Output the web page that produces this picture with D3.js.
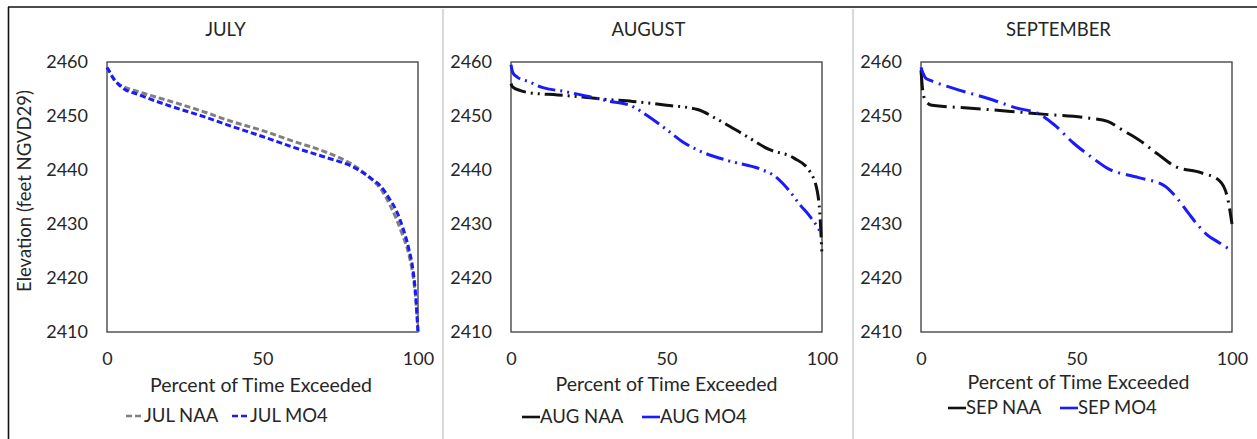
<!DOCTYPE html>
<html>
<head>
<meta charset="utf-8">
<script src="https://cdn.jsdelivr.net/npm/d3@7"></script>
<style>
  html, body { margin: 0; padding: 0; background: #fff; }
  svg { display: block; }
  text { font-family: Lato, "Open Sans", sans-serif; fill: #262626; }
</style>
</head>
<body>
<svg id="chart" width="1257" height="439"></svg>
<script>
// ---- Data (percent of time exceeded, elevation ft NGVD29) ----
const panelTitles = ["JULY", "AUGUST", "SEPTEMBER"];
const yTicks = [2410, 2420, 2430, 2440, 2450, 2460];
const xTicks = [0, 50, 100];
const xTitle = "Percent of Time Exceeded";
const yTitle = "Elevation (feet NGVD29)";

const julNAA = [[0,2459],[1,2458],[2,2457],[3.5,2456],[5,2455.5],[10,2454.5],[20,2452.8],[30,2451],[40,2449],[50,2447.3],[60,2445.3],[70,2443.4],[80,2440.6],[85,2438.3],[88,2436.5],[91,2433.5],[93,2431],[95,2428],[97,2424.5],[98.5,2420],[99.3,2416],[100,2410]];
const julMO4 = [[0,2459],[1,2458],[2,2457],[3.5,2456],[5,2455.2],[10,2454],[20,2451.9],[30,2450.1],[40,2448.1],[50,2446.2],[60,2444.2],[70,2442.4],[80,2440.3],[85,2438.4],[88,2437],[91,2434.5],[93,2432.5],[95,2429.5],[97,2425.5],[98.5,2421],[99.3,2416.5],[100,2410]];

const augNAA = [[0,2456],[0.5,2455.4],[3,2454.7],[6,2454.3],[15,2453.9],[23,2453.5],[30,2453.1],[39,2452.7],[50,2452],[60,2451.2],[66,2449.5],[75,2446.5],[83,2443.8],[91,2442.2],[96,2439.8],[98.5,2436],[99.3,2432],[100,2424]];
const augMO4 = [[0,2459.5],[0.6,2458],[2,2457.2],[5.5,2456.4],[10,2455.3],[17.6,2454.5],[25,2453.6],[32,2452.7],[38.6,2451.9],[44,2450],[50,2447.5],[55,2445.3],[62,2443.2],[70,2441.7],[80,2440.2],[85,2438.8],[89,2436.5],[93,2433.5],[96,2431.5],[98.5,2429.5],[100,2428]];

const sepNAA = [[0,2458.5],[0.6,2454.5],[1.5,2452.8],[3.5,2452],[15,2451.5],[28,2450.9],[40,2450.3],[54,2449.6],[60,2449],[65,2447.3],[70,2445.6],[76,2443],[82,2440.6],[90,2439.5],[96,2438],[98.5,2435],[100,2430]];
const sepMO4 = [[0,2459],[0.6,2458],[1.5,2457],[3,2456.6],[10,2455.2],[22.9,2453],[30,2451.6],[38.6,2450.2],[43,2448.3],[49,2445],[55,2442.3],[60,2440.3],[70,2438.6],[78.5,2437],[82,2435],[86,2432],[89,2429.8],[92,2428],[96,2426.5],[100,2425]];

const seriesNames = [["JUL NAA","JUL MO4"],["AUG NAA","AUG MO4"],["SEP NAA","SEP MO4"]];
const seriesData = [[julNAA, julMO4],[augNAA, augMO4],[sepNAA, sepMO4]];
const seriesColors = [["#7f7f7f","#1a1aff"],["#111111","#1a1aff"],["#111111","#1a1aff"]];
const seriesDash = [["6,3","6,3"],["18,5,2,5,2,5","18,5,2,5,2,5"],["20,6,2,6","20,6,2,6"]];

// ---- Layout ----
const svg = d3.select("#chart");
const W = 1257, H = 439;
const panelLeft = [107, 511, 921];
const plotW = 311;
const plotTop = 62, plotBottom = 332;
const legendY = [422, 423, 414];
const legendX = [[126, 232], [522, 642], [948, 1060]];
const titleOffset = [-37, -18, -18];
const xTitleOffset = [-1.5, 0, 2];

// outer frame
svg.append("line").attr("x1", 8).attr("x2", W).attr("y1", 7).attr("y2", 7)
  .attr("stroke", "#111").attr("stroke-width", 1.6);
svg.append("line").attr("x1", 8.5).attr("x2", 8.5).attr("y1", 7).attr("y2", H)
  .attr("stroke", "#111").attr("stroke-width", 1.6);
// panel separators
[443, 853].forEach(x => {
  svg.append("line").attr("x1", x).attr("x2", x).attr("y1", 9).attr("y2", H)
    .attr("stroke", "#d9d9d9").attr("stroke-width", 2);
});

panelTitles.forEach((title, i) => {
  const x = d3.scaleLinear().domain([0, 100]).range([panelLeft[i], panelLeft[i] + plotW]);
  const y = d3.scaleLinear().domain([2410, 2460]).range([plotBottom, plotTop]);
  const g = svg.append("g");

  // plot area border
  g.append("rect").attr("x", x(0)).attr("y", y(2460))
    .attr("width", x(100) - x(0)).attr("height", y(2410) - y(2460))
    .attr("fill", "#fff").attr("stroke", "#3a3a3a").attr("stroke-width", 1.3);

  // y axis labels
  const ya = g.append("g").attr("transform", `translate(${x(0)},0)`)
    .call(d3.axisLeft(y).tickValues(yTicks).tickSize(0).tickPadding(19).tickFormat(d3.format("d")));
  ya.select(".domain").remove();
  ya.selectAll("text").style("font-size", "18px").style("font-family", "Lato").attr("fill", "#262626");

  // x axis labels
  const xa = g.append("g").attr("transform", `translate(0,${y(2410)})`)
    .call(d3.axisBottom(x).tickValues(xTicks).tickSize(0).tickPadding(20).tickFormat(d3.format("d")));
  xa.select(".domain").remove();
  xa.selectAll("text").style("font-size", "18px").style("font-family", "Lato").attr("fill", "#262626");

  // title
  g.append("text").attr("x", (x(0) + x(100)) / 2 + titleOffset[i]).attr("y", 36)
    .attr("text-anchor", "middle").style("font-size", "18.5px").text(title);

  // x title
  g.append("text").attr("x", (x(0) + x(100)) / 2 + xTitleOffset[i]).attr("y", 392 - i * 1.5)
    .attr("text-anchor", "middle").style("font-size", "19.5px").text(xTitle);

  // lines
  const line = d3.line().x(d => x(d[0])).y(d => y(d[1])).curve(d3.curveMonotoneX);
  seriesData[i].forEach((data, k) => {
    g.append("path").datum(data).attr("d", line)
      .attr("fill", "none").attr("stroke", seriesColors[i][k])
      .attr("stroke-width", 3).attr("stroke-dasharray", seriesDash[i][k]);
  });

  // legend
  seriesNames[i].forEach((name, k) => {
    const lx = legendX[i][k];
    const ly = legendY[i];
    g.append("line").attr("x1", lx).attr("x2", lx + 18).attr("y1", ly - 6).attr("y2", ly - 6)
      .attr("stroke", seriesColors[i][k]).attr("stroke-width", 2.6)
      .attr("stroke-dasharray", i === 0 ? "6,3" : null);
    g.append("text").attr("x", lx + 18).attr("y", ly).style("font-size", "18.5px").text(name);
  });
});

// y axis title (first panel)
svg.append("text").attr("transform", "translate(31,191) rotate(-90)")
  .attr("text-anchor", "middle").style("font-size", "18.5px").text(yTitle);
</script>
</body>
</html>
